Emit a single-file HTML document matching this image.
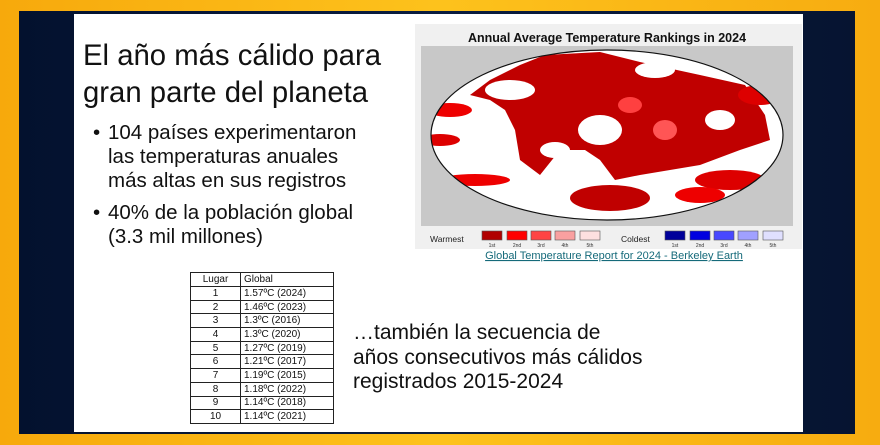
<!DOCTYPE html>
<html><head><meta charset="utf-8"><style>
body{margin:0;width:880px;height:445px;overflow:hidden;background:linear-gradient(90deg,#f7a90c,#fdc21c 50%,#f7ac10);font-family:"Liberation Sans",sans-serif;position:relative}
.navy{position:absolute;left:19px;top:11px;width:836px;height:423px;background:linear-gradient(90deg,#03112e,#0a1d40 50%,#061431)}
.slide{position:absolute;left:74px;top:14px;width:729px;height:418px;background:#fff}
.t{position:absolute;color:#111;white-space:nowrap}
table{position:absolute;left:190px;top:272px;border-collapse:collapse;font-size:10px;color:#111}
td{border:1px solid #222;height:13.7px;padding:0 0 0 3px;line-height:11px;vertical-align:middle;box-sizing:border-box}
td:first-child{width:50px;text-align:center;padding:0}
td:last-child{width:93px}
</style></head><body>
<div class="navy"></div>
<div class="slide"></div>
<div class="t" style="left:83px;top:37px;font-size:29.3px;line-height:37px">El año más cálido para<br>gran parte del planeta</div>
<div class="t" style="left:93px;top:121px;font-size:20.5px;line-height:24px">•</div>
<div class="t" style="left:108px;top:121px;font-size:20.5px;line-height:24px">104 países experimentaron<br>las temperaturas anuales<br>más altas en sus registros</div>
<div class="t" style="left:93px;top:201px;font-size:20.5px;line-height:24px">•</div>
<div class="t" style="left:108px;top:201px;font-size:20.5px;line-height:24px">40% de la población global<br>(3.3 mil millones)</div>
<div class="t" style="left:353px;top:321px;font-size:21px;line-height:24.5px">…también la secuencia de<br>años consecutivos más cálidos<br>registrados 2015-2024</div>
<svg style="position:absolute;left:0;top:0" width="880" height="445">
<rect x="415" y="24" width="387" height="225" fill="#f0f0f0"/>
<text x="607" y="42" text-anchor="middle" font-size="12.5" font-weight="bold" font-family="Liberation Sans" fill="#111">Annual Average Temperature Rankings in 2024</text>
<rect x="421" y="46" width="372" height="180" fill="#c8c8c8"/>
<defs><clipPath id="c"><ellipse cx="607" cy="135" rx="176" ry="85"/></clipPath></defs>
<ellipse cx="607" cy="135" rx="176" ry="85" fill="#fff"/>
<g clip-path="url(#c)" fill="#c00000">
<path d="M545 55 L600 52 L640 62 L700 75 L745 85 L765 115 L770 140 L740 150 L700 165 L670 170 L640 175 L615 180 L600 160 L585 150 L560 150 L540 175 L520 160 L515 130 L505 110 L490 100 L470 95 L490 80 L520 65Z"/>
<ellipse cx="610" cy="198" rx="40" ry="13"/>
<ellipse cx="450" cy="110" rx="22" ry="7" fill="#e00"/>
<ellipse cx="440" cy="140" rx="20" ry="6" fill="#d00"/>
<ellipse cx="475" cy="180" rx="35" ry="6" fill="#e00"/>
<ellipse cx="730" cy="180" rx="35" ry="10" fill="#d00"/>
<ellipse cx="760" cy="95" rx="22" ry="10" fill="#d00"/>
<ellipse cx="600" cy="130" rx="22" ry="15" fill="#fff"/>
<ellipse cx="630" cy="105" rx="12" ry="8" fill="#ff4040"/>
<ellipse cx="720" cy="120" rx="15" ry="10" fill="#fff"/>
<ellipse cx="510" cy="90" rx="25" ry="10" fill="#fff"/>
<ellipse cx="655" cy="70" rx="20" ry="8" fill="#fff"/>
<ellipse cx="665" cy="130" rx="12" ry="10" fill="#f55"/>
<ellipse cx="555" cy="150" rx="15" ry="8" fill="#fff"/>
<ellipse cx="700" cy="195" rx="25" ry="8" fill="#e00"/>
</g>
<ellipse cx="607" cy="135" rx="176" ry="85" fill="none" stroke="#111" stroke-width="1.2"/>
<text x="430" y="242" font-size="8.5" font-family="Liberation Sans" fill="#222">Warmest</text>
<g stroke="#555" stroke-width="0.6">
<rect x="482" y="231" width="20" height="9" fill="#b00000"/><rect x="507" y="231" width="20" height="9" fill="#f00"/><rect x="531" y="231" width="20" height="9" fill="#f44"/><rect x="555" y="231" width="20" height="9" fill="#f9a0a0"/><rect x="580" y="231" width="20" height="9" fill="#fde0e0"/>
<rect x="665" y="231" width="20" height="9" fill="#00009a"/><rect x="690" y="231" width="20" height="9" fill="#0000e0"/><rect x="714" y="231" width="20" height="9" fill="#4848ff"/><rect x="738" y="231" width="20" height="9" fill="#a0a0ff"/><rect x="763" y="231" width="20" height="9" fill="#e0e0ff"/>
</g>
<text x="621" y="242" font-size="8.5" font-family="Liberation Sans" fill="#222">Coldest</text>
<g font-size="5" font-family="Liberation Sans" fill="#333" text-anchor="middle">
<text x="492" y="247">1st</text><text x="517" y="247">2nd</text><text x="541" y="247">3rd</text><text x="565" y="247">4th</text><text x="590" y="247">5th</text>
<text x="675" y="247">1st</text><text x="700" y="247">2nd</text><text x="724" y="247">3rd</text><text x="748" y="247">4th</text><text x="773" y="247">5th</text>
</g>
<text x="614" y="259" text-anchor="middle" font-size="11" font-family="Liberation Sans" fill="#156a7a" text-decoration="underline">Global Temperature Report for 2024 - Berkeley Earth</text>
</svg>
<table>
<tr><td style="height:14px">Lugar</td><td>Global</td></tr>
<tr><td>1</td><td>1.57ºC (2024)</td></tr>
<tr><td>2</td><td>1.46ºC (2023)</td></tr>
<tr><td>3</td><td>1.3ºC (2016)</td></tr>
<tr><td>4</td><td>1.3ºC (2020)</td></tr>
<tr><td>5</td><td>1.27ºC (2019)</td></tr>
<tr><td>6</td><td>1.21ºC (2017)</td></tr>
<tr><td>7</td><td>1.19ºC (2015)</td></tr>
<tr><td>8</td><td>1.18ºC (2022)</td></tr>
<tr><td>9</td><td>1.14ºC (2018)</td></tr>
<tr><td>10</td><td>1.14ºC (2021)</td></tr>
</table>
</body></html>
